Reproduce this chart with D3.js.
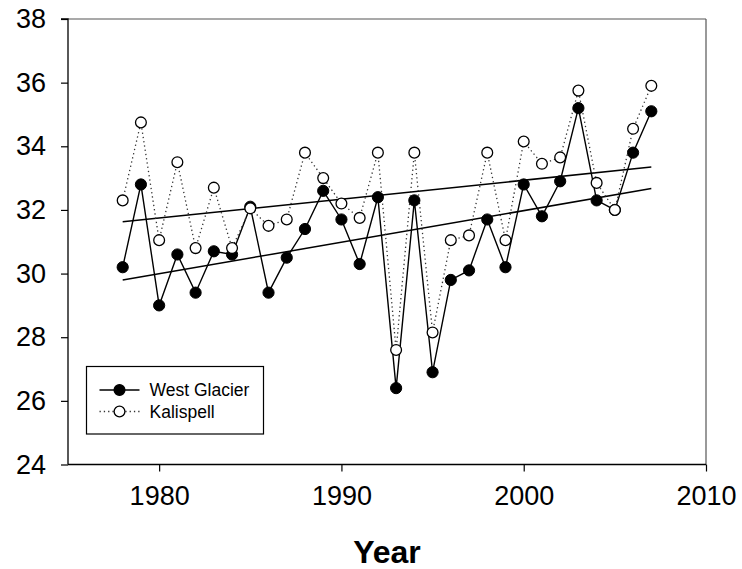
<!DOCTYPE html>
<html>
<head>
<meta charset="utf-8">
<script src="https://cdn.jsdelivr.net/npm/d3@7"></script>
<style>
  html, body { margin: 0; padding: 0; background: #fff; }
  svg { display: block; font-family: Arial, "Liberation Sans", sans-serif; }
</style>
</head>
<body>
<svg id="chart" width="742" height="569"></svg>
<script>
const years = [1978,1979,1980,1981,1982,1983,1984,1985,1986,1987,1988,1989,1990,1991,1992,1993,1994,1995,1996,1997,1998,1999,2000,2001,2002,2003,2004,2005,2006,2007];
const westGlacier = [30.2,32.8,29.0,30.6,29.4,30.7,30.6,32.1,29.4,30.5,31.4,32.6,31.7,30.3,32.4,26.4,32.3,26.9,29.8,30.1,31.7,30.2,32.8,31.8,32.9,35.2,32.3,32.0,33.8,35.1];
const kalispell = [32.3,34.75,31.05,33.5,30.8,32.7,30.8,32.05,31.5,31.7,33.8,33.0,32.2,31.75,33.8,27.6,33.8,28.15,31.05,31.2,33.8,31.05,34.15,33.45,33.65,35.75,32.85,32.0,34.55,35.9];
const xTicks = [1980,1990,2000,2010];
const yTicks = [24,26,28,30,32,34,36,38];
const seriesNames = ["West Glacier","Kalispell"];
const xLabel = "Year";

const svg = d3.select("#chart");
const L = 68, R = 706, T = 19, B = 464.5;
const x = d3.scaleLinear().domain([1975, 2010]).range([L, R]);
const y = d3.scaleLinear().domain([24, 38]).range([B, T]);

function fit(xs, ys) {
  const mx = d3.mean(xs), my = d3.mean(ys);
  let num = 0, den = 0;
  xs.forEach((v, i) => { num += (v - mx) * (ys[i] - my); den += (v - mx) * (v - mx); });
  const b = num / den, a = my - b * mx;
  return v => a + b * v;
}

// frame: top & right grey
svg.append("line").attr("x1", L).attr("x2", R).attr("y1", T).attr("y2", T).attr("stroke", "#555").attr("stroke-width", 1.2);
svg.append("line").attr("x1", R).attr("x2", R).attr("y1", T).attr("y2", B).attr("stroke", "#555").attr("stroke-width", 1.2);

// axes
const yAxis = svg.append("g").attr("transform", `translate(${L},0)`)
  .call(d3.axisLeft(y).tickValues(yTicks).tickSize(7).tickPadding(15).tickFormat(d3.format("d")));
const xAxis = svg.append("g").attr("transform", `translate(0,${B})`)
  .call(d3.axisBottom(x).tickValues(xTicks).tickSize(7).tickPadding(14).tickFormat(d3.format("d")));
[yAxis, xAxis].forEach(g => {
  g.select(".domain").attr("stroke", "#000").attr("stroke-width", 1.3);
  g.selectAll(".tick line").attr("stroke", "#000").attr("stroke-width", 1.2);
  g.selectAll("text").attr("font-size", 27).attr("fill", "#000").attr("font-family", "Arial, 'Liberation Sans', sans-serif");
});
yAxis.select(".domain").attr("d", `M-7,${T}H0V${B}`);
xAxis.select(".domain").attr("d", `M${L},0H${R}`);

// x label
svg.append("text").attr("x", (L + R) / 2).attr("y", 563).attr("text-anchor", "middle")
  .attr("font-size", 32).attr("font-weight", "bold").text(xLabel);

// regression lines
[westGlacier, kalispell].forEach(vals => {
  const f = fit(years, vals);
  const x0 = d3.min(years), x1 = d3.max(years);
  svg.append("line").attr("x1", x(x0)).attr("y1", y(f(x0))).attr("x2", x(x1)).attr("y2", y(f(x1)))
    .attr("stroke", "#000").attr("stroke-width", 1.5);
});

const line = d3.line().x(d => x(d[0])).y(d => y(d[1]));
const wg = years.map((yr, i) => [yr, westGlacier[i]]);
const ka = years.map((yr, i) => [yr, kalispell[i]]);

svg.append("path").attr("d", line(wg)).attr("fill", "none").attr("stroke", "#000").attr("stroke-width", 1.4);
svg.append("path").attr("d", line(ka)).attr("fill", "none").attr("stroke", "#333").attr("stroke-width", 1.3).attr("stroke-dasharray", "1.3,3");

svg.append("g").selectAll("circle").data(wg).join("circle")
  .attr("cx", d => x(d[0])).attr("cy", d => y(d[1])).attr("r", 5.6).attr("fill", "#000").attr("stroke", "#000");
svg.append("g").selectAll("circle").data(ka).join("circle")
  .attr("cx", d => x(d[0])).attr("cy", d => y(d[1])).attr("r", 5.4).attr("fill", "#fff").attr("stroke", "#000").attr("stroke-width", 1.3);

// legend
const lg = svg.append("g");
lg.append("rect").attr("x", 86.5).attr("y", 366.5).attr("width", 177).attr("height", 67.5)
  .attr("fill", "#fff").attr("stroke", "#000").attr("stroke-width", 1.2);
const rows = [
  { name: seriesNames[0], y: 390, dash: null, fill: "#000", stroke: "#000" },
  { name: seriesNames[1], y: 411.5, dash: "1.3,3", fill: "#fff", stroke: "#333" }
];
rows.forEach(r => {
  lg.append("line").attr("x1", 99.5).attr("x2", 139.5).attr("y1", r.y).attr("y2", r.y)
    .attr("stroke", r.stroke).attr("stroke-width", 1.3).attr("stroke-dasharray", r.dash);
  lg.append("circle").attr("cx", 119.5).attr("cy", r.y).attr("r", 5.4).attr("fill", r.fill).attr("stroke", "#000").attr("stroke-width", 1.3);
  lg.append("text").attr("x", 149.5).attr("y", r.y).attr("dy", "0.35em").attr("font-size", 17.5).attr("fill", "#000").text(r.name);
});
</script>
</body>
</html>
